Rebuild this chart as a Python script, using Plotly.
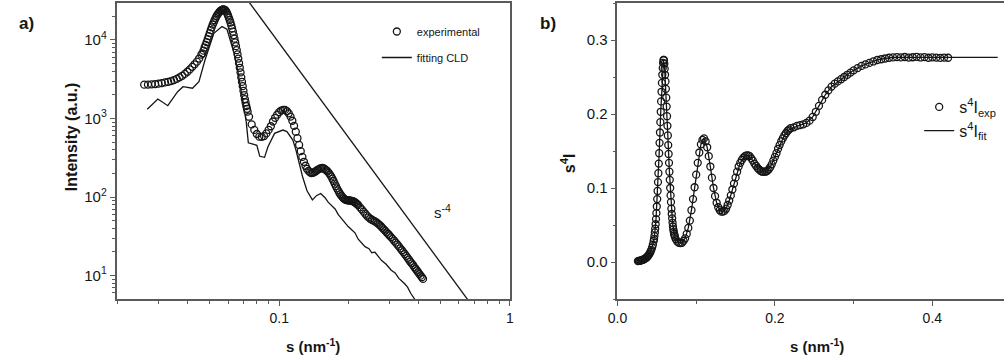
import plotly.graph_objects as go

# ---------------- data ----------------
# experimental scattering vector s (nm^-1)
s_exp = [0.026, 0.027, 0.028, 0.029, 0.030, 0.031, 0.032, 0.033, 0.034, 0.035,
         0.036, 0.037, 0.038, 0.039, 0.040, 0.041, 0.042, 0.043, 0.044, 0.045,
         0.0460, 0.0465, 0.0470, 0.0475, 0.0480, 0.0485, 0.0490, 0.0495, 0.0500, 0.0505,
         0.0510, 0.0515, 0.0520, 0.0525, 0.0530, 0.0535, 0.0540, 0.0545, 0.0550, 0.0555,
         0.0560, 0.0565, 0.0570, 0.0575, 0.0580, 0.0585, 0.0590, 0.0595, 0.0600, 0.0605,
         0.0610, 0.0615, 0.0620, 0.0625, 0.0630, 0.0635, 0.0640, 0.0645, 0.0650, 0.0655,
         0.0660, 0.0665, 0.0670, 0.0675, 0.0680, 0.0685, 0.0690, 0.0695, 0.0700, 0.0705,
         0.0710, 0.0715, 0.0720, 0.0725, 0.0730,
         0.074, 0.076, 0.078, 0.080, 0.082, 0.084, 0.086, 0.088, 0.090, 0.092,
         0.094, 0.096, 0.098, 0.100, 0.102, 0.104, 0.106, 0.108, 0.110, 0.112,
         0.114, 0.116, 0.118, 0.120, 0.122, 0.124, 0.126, 0.128, 0.130, 0.132,
         0.134, 0.136, 0.138, 0.140, 0.142, 0.144, 0.146, 0.148, 0.150, 0.152,
         0.154, 0.156, 0.158, 0.160, 0.162, 0.164, 0.166, 0.168, 0.170, 0.172,
         0.174, 0.176, 0.178, 0.180, 0.182, 0.184, 0.186, 0.188, 0.190, 0.192,
         0.194, 0.196, 0.198, 0.200, 0.202, 0.204, 0.206, 0.208, 0.210, 0.212,
         0.214, 0.216, 0.218, 0.220,
         0.224, 0.228, 0.232, 0.236, 0.240, 0.244, 0.248, 0.252, 0.256, 0.260,
         0.264, 0.268, 0.272, 0.276, 0.280, 0.284, 0.288, 0.292, 0.296, 0.300,
         0.305, 0.310, 0.315, 0.320, 0.325, 0.330, 0.335, 0.340, 0.345, 0.350,
         0.355, 0.360, 0.365, 0.370, 0.375, 0.380, 0.385, 0.390, 0.395, 0.400,
         0.405, 0.410, 0.415, 0.420]

# experimental intensity (a.u.), panel a
intensity_exp = [2700, 2705, 2720, 2745, 2780, 2825, 2880, 2935, 3000, 3090,
                 3200, 3340, 3500, 3700, 3940, 4220, 4550, 4900, 5300, 5800,
                 6500, 6763, 7316, 8015, 8647, 9402, 10262, 11213, 12240, 13331,
                 14474, 15660, 16741, 17857, 19003, 20045, 20992, 21851, 22628, 23329,
                 23855, 24223, 24447, 24447, 24246, 23776, 22980, 21811, 20542, 19262,
                 17975, 16685, 15325, 14038, 12756, 11543, 10396, 9311, 8343, 7426,
                 6558, 5789, 5062, 4422, 3864, 3336, 2925, 2579, 2252, 1982,
                 1766, 1600, 1442, 1329, 1221,
                 1054, 841, 716, 635, 587, 584, 597, 646, 715, 797,
                 915, 1021, 1117, 1204, 1263, 1290, 1285, 1237, 1163, 1057,
                 936, 806, 679, 561, 460, 384, 324, 281, 250, 228,
                 215, 206, 202, 204, 208, 213, 220, 225, 230, 233,
                 234, 231, 226, 219, 212, 203, 193, 183, 171, 160,
                 148, 138, 129, 121.5, 114.3, 108.6, 104.0, 99.6, 96.3, 93.8,
                 92.2, 91.2, 90.9, 90.5, 90.1, 90.1, 89.5, 88.8, 87.6, 86.3,
                 84.6, 82.9, 80.8, 78.8,
                 73.7, 69.5, 65.1, 61.2, 57.8, 55.0, 52.9, 51.3, 50.1, 48.9,
                 47.5, 45.9, 44.2, 42.4, 40.5, 38.7, 37.1, 35.5, 34.0, 32.6,
                 30.9, 29.3, 27.7, 26.2, 24.8, 23.5, 22.2, 21.0, 19.9, 18.8,
                 17.8, 16.8, 15.9, 15.0, 14.3, 13.6, 12.8, 12.2, 11.6, 11.0,
                 10.5, 9.96, 9.50, 9.05]

# experimental s^4 I, panel b
s4i_exp = [0.00121, 0.00141, 0.00164, 0.00190, 0.00221, 0.00256, 0.00296, 0.00341, 0.00393, 0.00455,
           0.00527, 0.00614, 0.00715, 0.00839, 0.00989, 0.01169, 0.01388, 0.01642, 0.01948, 0.0233,
           0.0285, 0.031, 0.035, 0.040, 0.045, 0.051, 0.058, 0.066, 0.075, 0.085,
           0.096, 0.108, 0.120, 0.133, 0.147, 0.161, 0.175, 0.189, 0.203, 0.217,
           0.230, 0.242, 0.253, 0.262, 0.269, 0.273, 0.273, 0.268, 0.261, 0.253,
           0.244, 0.234, 0.222, 0.210, 0.197, 0.184, 0.171, 0.158, 0.146, 0.134,
           0.122, 0.111, 0.100, 0.090, 0.081, 0.072, 0.065, 0.059, 0.053, 0.048,
           0.044, 0.041, 0.038, 0.036, 0.034,
           0.031, 0.0275, 0.026, 0.0255, 0.026, 0.0285, 0.032, 0.038, 0.046, 0.056,
           0.070, 0.085, 0.101, 0.118, 0.134, 0.148, 0.159, 0.165, 0.167, 0.163,
           0.155, 0.143, 0.129, 0.114, 0.100, 0.089, 0.080, 0.074, 0.070, 0.068,
           0.068, 0.069, 0.072, 0.077, 0.083, 0.090, 0.098, 0.106, 0.114, 0.122,
           0.129, 0.134, 0.138, 0.141, 0.143, 0.144, 0.144, 0.143, 0.140, 0.137,
           0.133, 0.130, 0.127, 0.125, 0.123, 0.122, 0.122, 0.122, 0.123, 0.125,
           0.128, 0.132, 0.137, 0.142, 0.147, 0.153, 0.158, 0.163, 0.167, 0.171,
           0.174, 0.177, 0.179, 0.181,
           0.182, 0.184, 0.185, 0.186, 0.188, 0.191, 0.196, 0.203, 0.211, 0.219,
           0.226, 0.232, 0.237, 0.241, 0.244, 0.247, 0.250, 0.253, 0.256, 0.259,
           0.262, 0.265, 0.267, 0.269, 0.271, 0.273, 0.274, 0.275, 0.276, 0.2765,
           0.2768, 0.2765, 0.2770, 0.2763, 0.2767, 0.2772, 0.2764, 0.2768, 0.2760, 0.2766,
           0.2762, 0.2758, 0.2763, 0.2760]

# CLD fit, panel a
s_cld = [0.0268, 0.0298, 0.0329, 0.0363, 0.0383, 0.0421, 0.0449, 0.0477, 0.0521, 0.0565,
         0.0594, 0.0602, 0.062, 0.064, 0.066, 0.068, 0.070, 0.072, 0.0735, 0.077,
         0.080, 0.0824, 0.0864, 0.0894, 0.0955, 0.1037, 0.108, 0.1146, 0.1182, 0.1263,
         0.132, 0.1393, 0.145, 0.1513, 0.158, 0.163, 0.1697, 0.175, 0.180, 0.1873,
         0.193, 0.199, 0.2066, 0.213, 0.220, 0.2355, 0.245, 0.252, 0.260, 0.2685,
         0.278, 0.290, 0.306, 0.318, 0.330, 0.349, 0.360, 0.372, 0.385, 0.400]
intensity_cld = [1310, 1770, 1455, 2193, 2540, 2430, 2945, 5560, 12170, 14800,
                 13700, 12000, 9500, 6500, 4200, 2600, 1500, 900, 490, 470,
                 455, 330, 320, 437, 647, 713, 680, 532, 397, 181,
                 120, 92, 104, 111, 98, 86, 76, 70, 60, 52,
                 48, 42, 38, 35, 29, 23.3, 22, 19.5, 19.8, 17.5,
                 15.5, 14, 11.7, 10.8, 9.2, 7.9, 7.1, 5.9, 5.1, 4.3]

# s^-4 guide line, panel a
s_power = [0.06, 0.8]
intensity_power = [70370, 2.23]

# s^4 I fit, panel b
s_fit = [0.026, 0.030, 0.034, 0.038, 0.042, 0.045, 0.047, 0.049, 0.051, 0.053,
         0.055, 0.057, 0.0585, 0.060, 0.062, 0.064, 0.066, 0.068, 0.070, 0.072,
         0.074, 0.078, 0.082, 0.086, 0.090, 0.094, 0.098, 0.102, 0.106, 0.110,
         0.114, 0.118, 0.122, 0.126, 0.130, 0.134, 0.138, 0.142, 0.146, 0.150,
         0.156, 0.162, 0.166, 0.172, 0.178, 0.184, 0.188, 0.194, 0.200, 0.206,
         0.212, 0.218, 0.224, 0.232, 0.240, 0.248, 0.256, 0.264, 0.272, 0.280,
         0.290, 0.300, 0.310, 0.320, 0.330, 0.340, 0.350, 0.370, 0.390, 0.410,
         0.430, 0.450, 0.470, 0.483]
s4i_fit = [0.0012, 0.0022, 0.0039, 0.0072, 0.0139, 0.0233, 0.035, 0.058, 0.096, 0.147,
           0.203, 0.253, 0.273, 0.261, 0.222, 0.171, 0.122, 0.081, 0.053, 0.038,
           0.031, 0.026, 0.026, 0.032, 0.046, 0.070, 0.101, 0.134, 0.159, 0.167,
           0.155, 0.129, 0.100, 0.080, 0.070, 0.068, 0.072, 0.083, 0.098, 0.114,
           0.134, 0.143, 0.144, 0.137, 0.127, 0.122, 0.122, 0.128, 0.142, 0.158,
           0.171, 0.179, 0.182, 0.185, 0.188, 0.196, 0.211, 0.226, 0.237, 0.244,
           0.2515, 0.259, 0.265, 0.269, 0.273, 0.275, 0.2765, 0.2766, 0.2766, 0.2765,
           0.2765, 0.2765, 0.2765, 0.2765]

# tick labels
a_x_ticks = [0.1, 1]
a_x_ticktext = ["0.1", "1"]
a_y_ticks = [10, 100, 1000, 10000]
a_y_ticktext = ["10<sup>1</sup>", "10<sup>2</sup>", "10<sup>3</sup>", "10<sup>4</sup>"]
b_x_ticks = [0.0, 0.2, 0.4]
b_x_ticktext = ["0.0", "0.2", "0.4"]
b_y_ticks = [0.0, 0.1, 0.2, 0.3]
b_y_ticktext = ["0.0", "0.1", "0.2", "0.3"]

# ---------------- figure ----------------
W, H = 1008, 362
FONT = "Liberation Sans, Arial, sans-serif"
AX = "#5a5a5a"
INK = "#151515"


def px(x):
    return x / W


def py(y):
    return 1 - y / H


fig = go.Figure()

marker_style = dict(symbol="circle-open", size=7, color=INK, line=dict(width=1.3, color=INK))

fig.add_trace(go.Scatter(
    x=s_exp, y=intensity_exp, mode="markers", name="experimental",
    marker=marker_style, xaxis="x", yaxis="y", legend="legend", legendgroup="a1"))
fig.add_trace(go.Scatter(
    x=s_cld, y=intensity_cld, mode="lines", name="fitting CLD",
    line=dict(color=INK, width=1.3),
    xaxis="x", yaxis="y", legend="legend", legendgroup="a2"))
fig.add_trace(go.Scatter(
    x=s_power, y=intensity_power, mode="lines", name="s-4", showlegend=False,
    line=dict(color=INK, width=1.3), xaxis="x", yaxis="y"))

fig.add_trace(go.Scatter(
    x=s_exp, y=s4i_exp, mode="markers", name="s<sup>4</sup>I<sub>exp</sub>",
    marker=marker_style, xaxis="x2", yaxis="y2", legend="legend2", legendgroup="b1"))
fig.add_trace(go.Scatter(
    x=s_fit, y=s4i_fit, mode="lines", name="s<sup>4</sup>I<sub>fit</sub>",
    line=dict(color=INK, width=1.3),
    xaxis="x2", yaxis="y2", legend="legend2", legendgroup="b2"))

dom_y = [py(299), py(3)]
common = dict(showline=True, linecolor=AX, linewidth=1.5, ticks="outside",
              ticklen=5, tickwidth=1.2, tickcolor=AX, showgrid=False, zeroline=False)
xfont = dict(family=FONT, size=14, color=INK)
yfont = dict(family=FONT, size=15, color=INK)

a_y_minor = [m * 10 ** e for e in range(0, 5) for m in range(2, 10)]
a_x_minor = [m / 100 for m in range(2, 10)] + [m / 10 for m in range(2, 10)]

fig.update_layout(
    width=W, height=H,
    margin=dict(l=0, r=0, t=0, b=0),
    paper_bgcolor="white", plot_bgcolor="white",
    font=dict(family=FONT, color=INK),
    xaxis=dict(domain=[px(108), px(507)], type="log", range=[-1.705, 0],
               tickmode="array", tickvals=a_x_ticks, ticktext=a_x_ticktext,
               mirror=True, anchor="y", tickfont=xfont,
               minor=dict(tickvals=a_x_minor, ticks="outside", ticklen=3,
                          tickcolor=AX, tickwidth=1), **common),
    yaxis=dict(domain=dom_y, type="log", range=[0.701, 4.471],
               tickmode="array", tickvals=a_y_ticks, ticktext=a_y_ticktext,
               mirror=True, anchor="x", tickfont=yfont,
               minor=dict(tickvals=a_y_minor, ticks="outside", ticklen=3,
                          tickcolor=AX, tickwidth=1), **common),
    xaxis2=dict(domain=[px(616), 1.0], range=[0, 0.491],
                tickmode="array", tickvals=b_x_ticks, ticktext=b_x_ticktext,
                mirror=True, anchor="y2", tickfont=xfont,
                minor=dict(dtick=0.1, ticks="outside", ticklen=3,
                           tickcolor=AX, tickwidth=1), **common),
    yaxis2=dict(domain=dom_y, range=[-0.05, 0.35],
                tickmode="array", tickvals=b_y_ticks, ticktext=b_y_ticktext,
                anchor="x2", tickfont=yfont,
                minor=dict(dtick=0.05, ticks="outside", ticklen=3,
                           tickcolor=AX, tickwidth=1), **common),
    legend=dict(x=px(372), y=py(17), xanchor="left", yanchor="top",
                bgcolor="rgba(0,0,0,0)", borderwidth=0, tracegroupgap=7,
                font=dict(family=FONT, size=11, color=INK)),
    legend2=dict(x=px(922), y=py(90), xanchor="left", yanchor="top",
                 bgcolor="rgba(0,0,0,0)", borderwidth=0, tracegroupgap=0,
                 font=dict(family=FONT, size=16, color=INK)),
    showlegend=True,
)

annos = [
    dict(text="<b>a)</b>", x=px(17), y=py(23), size=17, angle=0),
    dict(text="<b>b)</b>", x=px(546), y=py(23), size=17, angle=0),
    dict(text="<b>Intensity (a.u.)</b>", x=px(62), y=py(137), size=16, angle=-90),
    dict(text="<b>s<sup>4</sup>I</b>", x=px(566), y=py(163), size=16, angle=-90),
    dict(text="<b>s (nm<sup>-1</sup>)</b>", x=px(307), y=py(345), size=15, angle=0),
    dict(text="<b>s (nm<sup>-1</sup>)</b>", x=px(818), y=py(345), size=15, angle=0),
    dict(text="s<sup>-4</sup>", x=px(439), y=py(211), size=15, angle=0),
]
for a in annos:
    fig.add_annotation(text=a["text"], x=a["x"], y=a["y"], xref="paper", yref="paper",
                       xanchor="center", yanchor="middle", showarrow=False,
                       textangle=a["angle"], font=dict(family=FONT, size=a["size"], color=INK))

fig.write_html("out.html")
